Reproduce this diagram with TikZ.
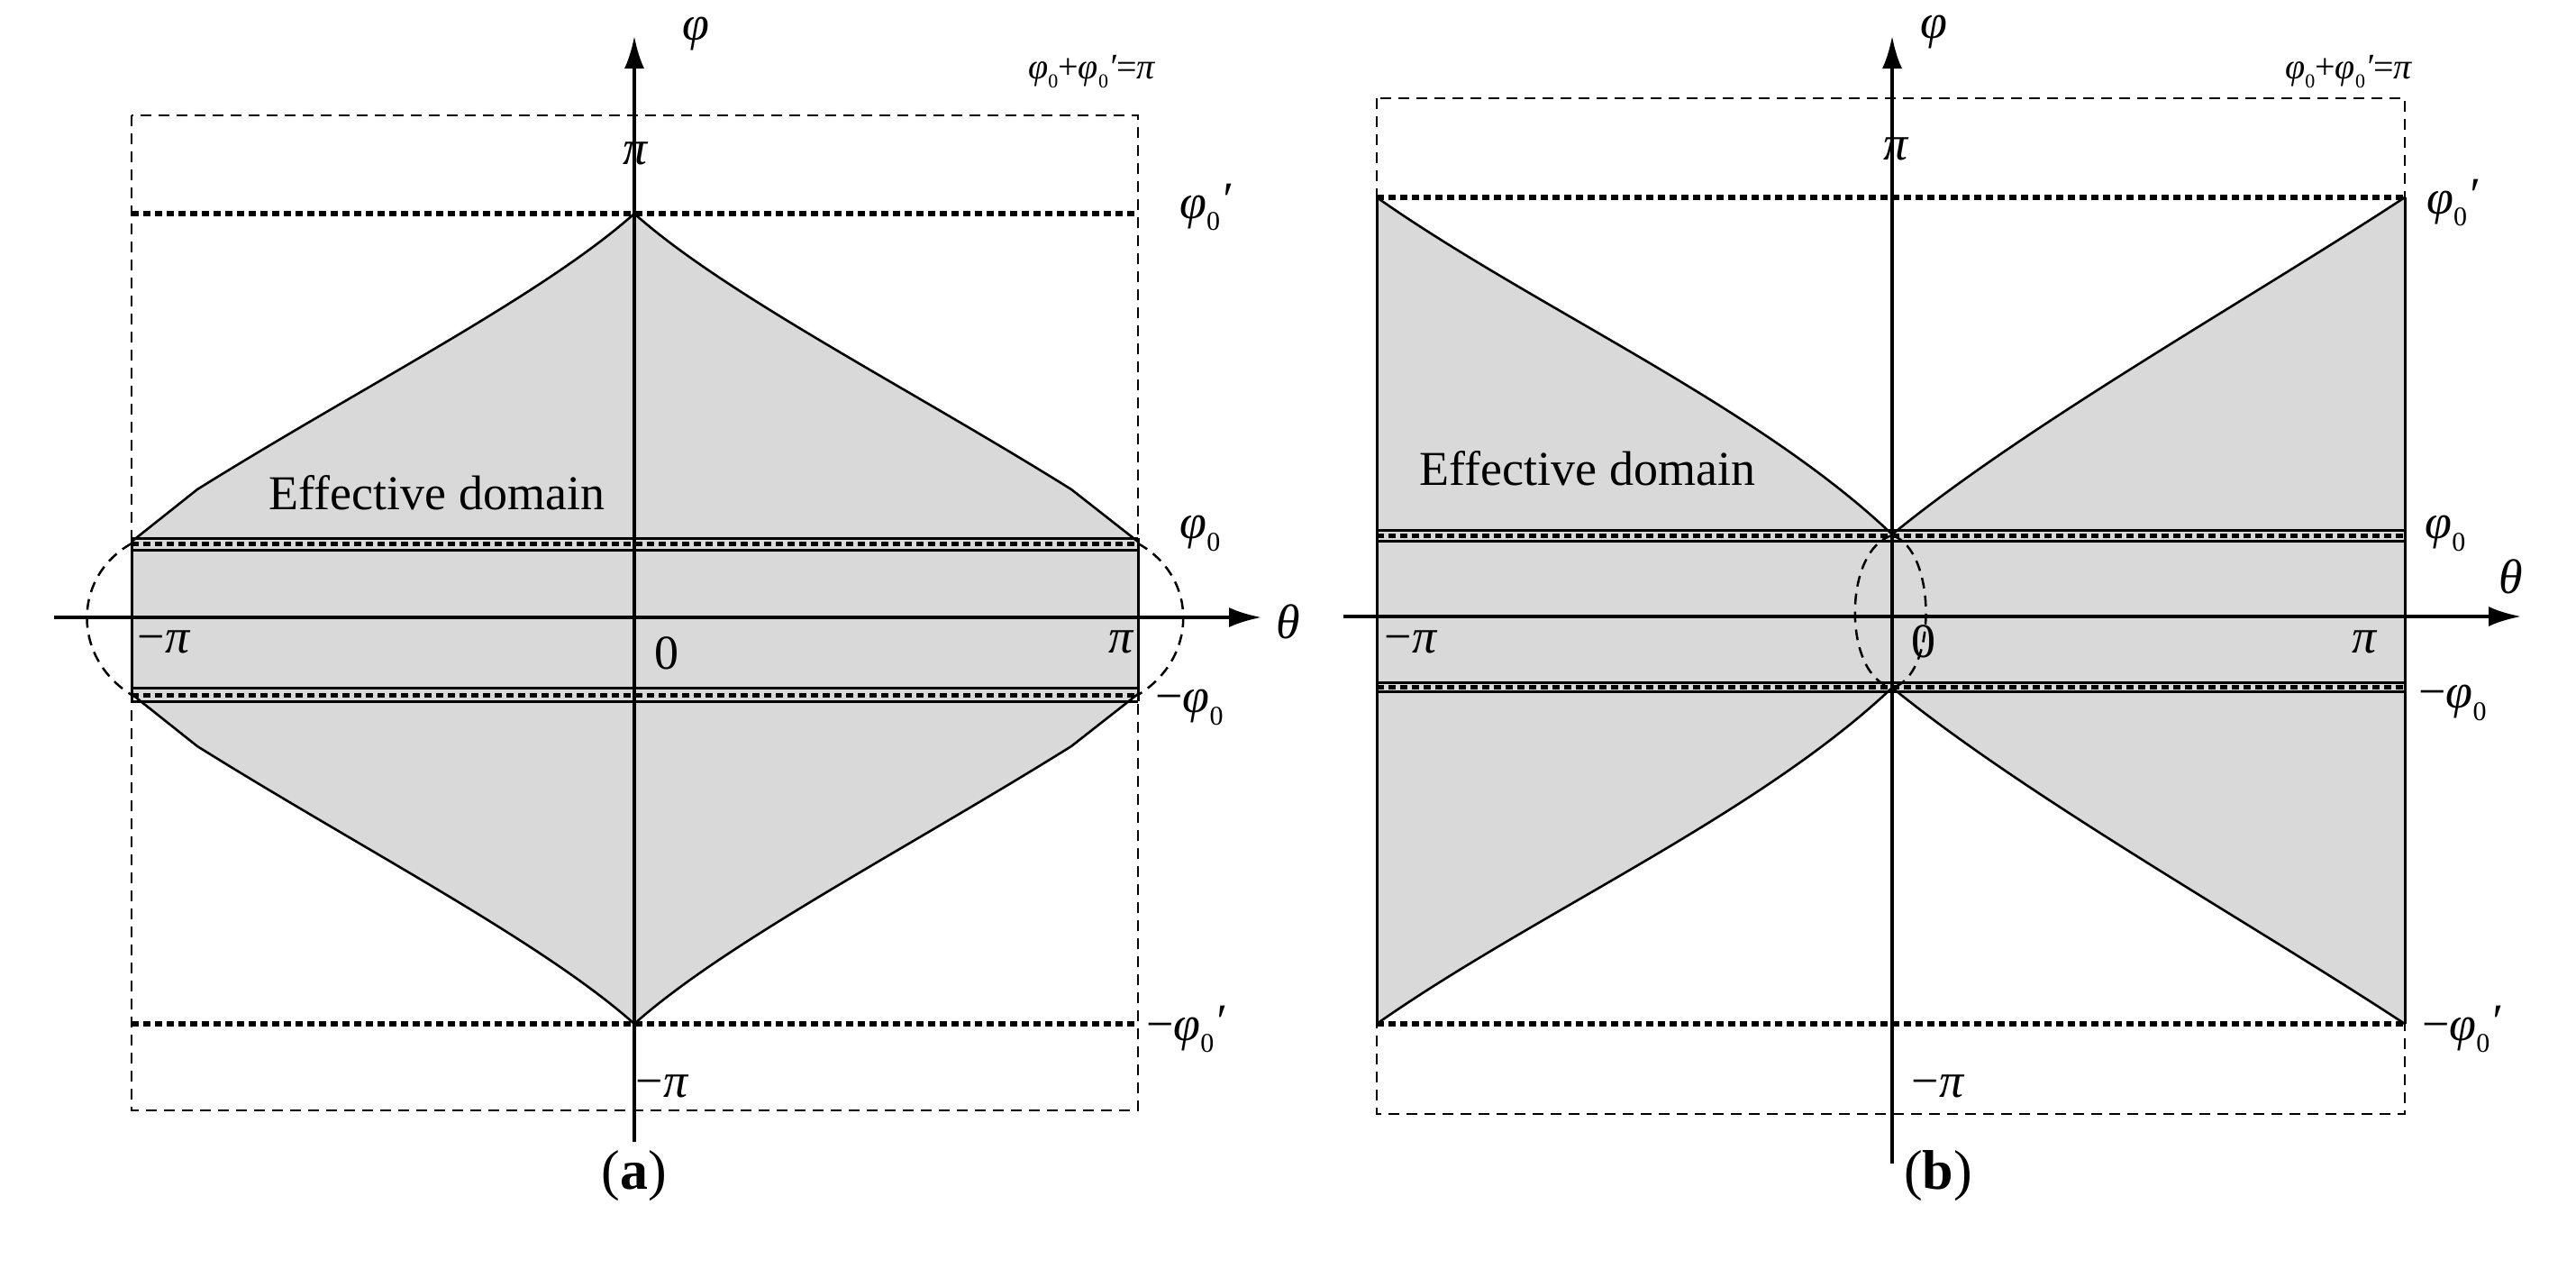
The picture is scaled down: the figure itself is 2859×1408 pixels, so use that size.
\documentclass[tikz,border=0pt]{standalone}
\usepackage{fontspec}
\setmainfont{Liberation Serif}
\usetikzlibrary{arrows.meta}
\newcommand{\ph}{\textit{φ}}
\newcommand{\pz}{\textit{φ}\raisebox{-0.25em}{\fontsize{30}{32}\selectfont 0}}
\newcommand{\pzp}{\textit{φ}\raisebox{-0.25em}{\fontsize{30}{32}\selectfont 0}\raisebox{0.05em}{\textit{′}}}
\newcommand{\pzs}{\textit{φ}\raisebox{-0.25em}{\fontsize{22}{24}\selectfont 0}}
\newcommand{\pzps}{\textit{φ}\raisebox{-0.25em}{\fontsize{22}{24}\selectfont 0}\textit{′}}
\begin{document}
\begin{tikzpicture}[x=1pt,y=-1pt,
  lab/.style={font=\fontsize{54}{60}\selectfont},
  big/.style={font=\fontsize{62}{68}\selectfont},
  sm/.style={font=\fontsize{40}{44}\selectfont},
  ax/.style={line width=4pt,-{Latex[length=36pt,width=22pt]}},
  box/.style={line width=1.8pt,dash pattern=on 12pt off 8pt},
  dots/.style={line width=6pt,dash pattern=on 8pt off 5pt},
  bnd/.style={line width=3pt},
  cur/.style={line width=2.6pt},
  gr/.style={fill=black!15}]
\useasboundingbox (0,0) rectangle (2859,1408);
% ---------- (a) ----------
\fill[gr] (704,237) .. controls (602,328) and (400,430) .. (219,543) -- (146,601) -- (146,770)
  -- (219,828) .. controls (400,941) and (602,1045) .. (704,1136)
  .. controls (806,1045) and (1008,941) .. (1189,828) -- (1263,770) -- (1263,601) -- (1189,543)
  .. controls (1008,430) and (806,328) .. (704,237) -- cycle;
\draw[cur] (146,601) -- (219,543) .. controls (400,430) and (602,328) .. (704,237)
  .. controls (806,328) and (1008,430) .. (1189,543) -- (1263,601);
\draw[cur] (146,770) -- (219,828) .. controls (400,941) and (602,1045) .. (704,1136)
  .. controls (806,1045) and (1008,941) .. (1189,828) -- (1263,770);
\draw[box] (146,128) rectangle (1263,1232);
\draw[dots] (146,237) -- (1263,237);
\draw[dots] (146,1136) -- (1263,1136);
\foreach \y in {597,778} \draw[bnd] (146,\y) -- (1263,\y);
\foreach \y in {610,763} \draw[bnd] (146,\y) -- (1263,\y);
\foreach \y in {603,771} \draw[line width=5pt,dash pattern=on 8pt off 5pt] (146,\y) -- (1263,\y);
\draw[bnd] (146,597) -- (146,778);
\draw[bnd] (1263,597) -- (1263,778);
\draw[box,line width=2.5pt] (146,603) .. controls (80,640) and (80,730) .. (146,771);
\draw[box,line width=2.5pt] (1263,603) .. controls (1330,640) and (1330,730) .. (1263,771);
\coordinate (aL) at (60,685); \coordinate (aR) at (1400,685);
\coordinate (aB) at (704,1267); \coordinate (aT) at (704,40);
\draw[ax] (aL) -- (aR);
\draw[ax] (aB) -- (aT);
\node[lab] (a1) at (772,38) {\ph};
\node[lab] (a2) at (706,170) {\textit{π}};
\node[lab] (a3) at (1430,690) {\textit{θ}};
\node[lab] (a4) at (182,712) {−\textit{π}};
\node[lab] (a5) at (740,725) {0};
\node[lab] (a6) at (1245,712) {\textit{π}};
\node[lab] (a7) at (735,1205) {−\textit{π}};
\node[lab] (a8) at (1338,230) {\pzp};
\node[lab] (a9) at (1332,592) {\pz};
\node[lab] (a10) at (1320,785) {−\pz};
\node[lab] (a11) at (1316,1142) {−\pzp};
\node[sm] (a12) at (1212,80) {\pzs+\pzps=\textit{π}};
\node[lab] (a13) at (485,547) {Effective domain};
\node[big] (a14) at (704,1305) {(\textbf{a})};
% ---------- (b) ----------
\fill[gr] (1528,219) .. controls (1700,340) and (1950,450) .. (2100,593)
  .. controls (2250,470) and (2500,330) .. (2669,219) -- (2669,1136)
  .. controls (2500,1025) and (2250,885) .. (2100,763)
  .. controls (1950,905) and (1700,1015) .. (1528,1136) -- cycle;
\draw[cur] (1528,219) .. controls (1700,340) and (1950,450) .. (2100,593)
  .. controls (2250,470) and (2500,330) .. (2669,219);
\draw[cur] (1528,1136) .. controls (1700,1015) and (1950,905) .. (2100,763)
  .. controls (2250,885) and (2500,1025) .. (2669,1136);
\draw[box] (1528,109) rectangle (2669,1236);
\draw[bnd] (1528,219) -- (1528,1136);
\draw[bnd] (2669,219) -- (2669,1136);
\draw[dots] (1528,219) -- (2669,219);
\draw[dots] (1528,1136) -- (2669,1136);
\foreach \y in {588,600,757,767} \draw[bnd] (1528,\y) -- (2669,\y);
\foreach \y in {594,762} \draw[line width=5pt,dash pattern=on 8pt off 5pt] (1528,\y) -- (2669,\y);
\draw[box,line width=2.5pt] (2100,594) .. controls (2045,610) and (2045,750) .. (2100,763);
\draw[box,line width=2.5pt] (2100,594) .. controls (2150,610) and (2150,750) .. (2100,763);
\coordinate (bL) at (1491,684); \coordinate (bR) at (2798,684);
\coordinate (bB) at (2100,1291); \coordinate (bT) at (2100,40);
\draw[ax] (bL) -- (bR);
\draw[ax] (bB) -- (bT);
\node[lab] (b1) at (2146,36) {\ph};
\node[lab] (b2) at (2105,165) {\textit{π}};
\node[lab] (b3) at (2787,640) {\textit{θ}};
\node[lab] (b4) at (1566,712) {−\textit{π}};
\node[lab] (b5) at (2135,712) {0};
\node[lab] (b6) at (2625,712) {\textit{π}};
\node[lab] (b7) at (2151,1205) {−\textit{π}};
\node[lab] (b8) at (2722,225) {\pzp};
\node[lab] (b9) at (2714,592) {\pz};
\node[lab] (b10) at (2722,780) {−\pz};
\node[lab] (b11) at (2732,1142) {−\pzp};
\node[sm] (b12) at (2607,80) {\pzs+\pzps=\textit{π}};
\node[lab] (b13) at (1762,520) {Effective domain};
\node[big] (b14) at (2151,1305) {(\textbf{b})};
\end{tikzpicture}
\end{document}
